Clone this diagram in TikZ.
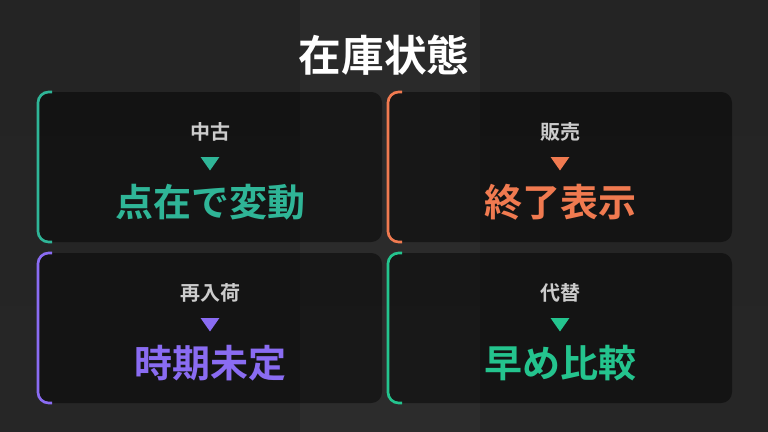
\documentclass[tikz,border=0pt]{standalone}
\usetikzlibrary{shapes.geometric}
\usepackage{fontspec}
\newfontfamily\cjk{Noto Sans CJK JP}[BoldFont={Noto Sans CJK JP Bold}]
\definecolor{c1}{HTML}{2FB597}\definecolor{c2}{HTML}{F07A50}
\definecolor{c3}{HTML}{8A6CF2}\definecolor{c4}{HTML}{24C48E}
\begin{document}
\begin{tikzpicture}[x=0.75pt,y=-0.75pt,
  panel/.style={fill=black,fill opacity=0.45,rounded corners=8pt},
  edge/.style={line width=2pt,rounded corners=8pt},
  small/.style={font=\cjk\bfseries\fontsize{15}{18}\selectfont,text=gray!40!white},
  big/.style={font=\cjk\bfseries\fontsize{28.5}{32}\selectfont},
  tri/.style={isosceles triangle,shape border rotate=-90,isosceles triangle apex angle=70,inner sep=0pt,minimum height=10pt,minimum width=12pt}]
\useasboundingbox (0,0) rectangle (768,432);
\shade[top color=black!72!gray,bottom color=black!85] (0,0) rectangle (768,432);
\fill[white,opacity=0.03] (300,0) rectangle (480,432);
\node[font=\cjk\bfseries\fontsize{32}{36}\selectfont,text=white] (title) at (384,55) {在庫状態};
\foreach \x/\y/\c/\s/\b/\n in {38/92/c1/中古/点在で変動/a,388/92/c2/販売/終了表示/b,38/253/c3/再入荷/時期未定/c,388/253/c4/代替/早め比較/d}{
  \fill[panel] (\x,\y) rectangle ++(344,150);
  \draw[edge,\c] (\x+14,\y) -- (\x,\y) -- (\x,\y+150) -- (\x+14,\y+150);
  \node[small] (s\n) at (\x+172,\y+40) {\s};
  \node[tri,fill=\c] (t\n) at (\x+172,\y+70) {};
  \node[big,text=\c] (b\n) at (\x+172,\y+110) {\b};
}
\end{tikzpicture}
\end{document}
